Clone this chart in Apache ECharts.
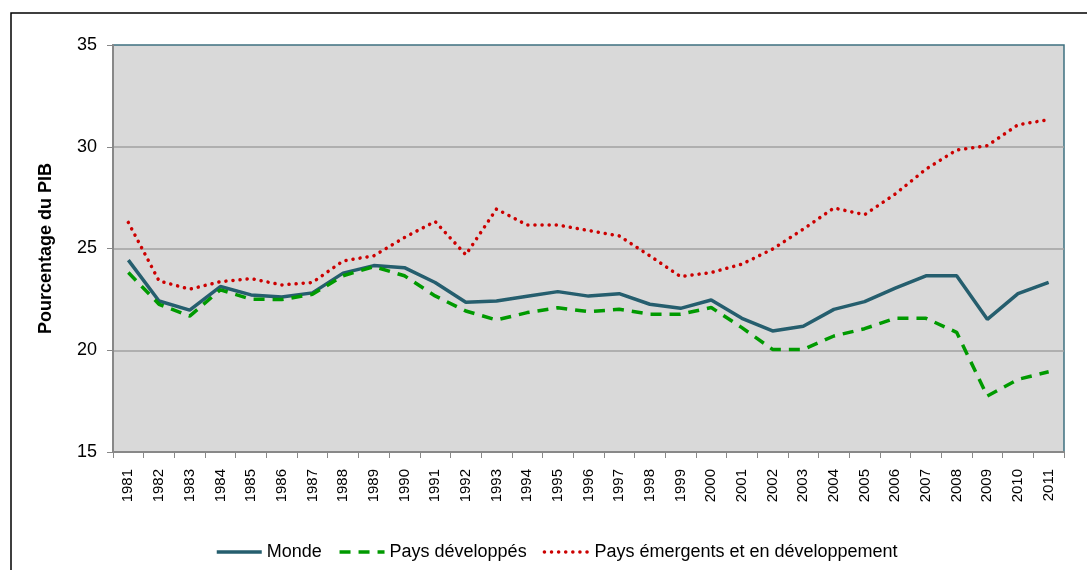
<!DOCTYPE html>
<html>
<head>
<meta charset="utf-8">
<script src="https://cdn.jsdelivr.net/npm/echarts@6/dist/echarts.min.js"></script>
<style>
  html, body { margin: 0; padding: 0; background: #fff; }
  #chart { width: 1087px; height: 570px; }
</style>
</head>
<body>
<div id="chart"></div>
<script>
const years = ['1981','1982','1983','1984','1985','1986','1987','1988','1989','1990',
  '1991','1992','1993','1994','1995','1996','1997','1998','1999','2000',
  '2001','2002','2003','2004','2005','2006','2007','2008','2009','2010','2011'];

const monde = [24.43, 22.42, 21.97, 23.13, 22.72, 22.62, 22.82, 23.79, 24.16, 24.06,
  23.33, 22.36, 22.42, 22.65, 22.88, 22.66, 22.78, 22.26, 22.06, 22.47,
  21.57, 20.95, 21.18, 22.01, 22.39, 23.05, 23.66, 23.66, 21.52, 22.78, 23.34];

const developpes = [23.82, 22.26, 21.68, 22.97, 22.51, 22.49, 22.75, 23.66, 24.11, 23.66,
  22.67, 21.93, 21.49, 21.85, 22.09, 21.90, 22.01, 21.77, 21.77, 22.10,
  21.11, 20.04, 20.04, 20.70, 21.06, 21.57, 21.57, 20.88, 17.75, 18.57, 18.94];

const emergents = [26.28, 23.41, 23.00, 23.37, 23.52, 23.21, 23.33, 24.39, 24.64, 25.54,
  26.33, 24.69, 26.94, 26.15, 26.15, 25.88, 25.62, 24.64, 23.62, 23.82,
  24.23, 24.97, 25.95, 26.99, 26.66, 27.68, 28.90, 29.84, 30.05, 31.08, 31.33];

const font = "'Liberation Sans', Arial, sans-serif";

const chart = echarts.init(document.getElementById('chart'));
chart.setOption({
  animation: false,
  textStyle: { fontFamily: font, color: '#000' },
  graphic: [{
    type: 'rect',
    z: -1,
    shape: { x: 11, y: 13, width: 1100, height: 600 },
    style: { fill: 'none', stroke: '#000', lineWidth: 1.5 }
  }],
  grid: {
    left: 113, right: 23, top: 45, bottom: 118,
    show: true,
    backgroundColor: '#d9d9d9',
    borderColor: '#3e7080',
    borderWidth: 1.5
  },
  legend: {
    left: 210,
    top: 538,
    itemWidth: 45,
    itemHeight: 14,
    itemGap: 16,
    itemStyle: { opacity: 0 },
    lineStyle: { width: 3.5 },
    textStyle: { fontSize: 18, fontFamily: font, color: '#000' },
    data: ['Monde', 'Pays développés', 'Pays émergents et en développement']
  },
  xAxis: {
    type: 'category',
    data: years,
    boundaryGap: true,
    axisLine: { lineStyle: { color: '#888', width: 2 } },
    axisTick: { show: true, length: 6, lineStyle: { color: '#888', width: 1 } },
    axisLabel: { rotate: 90, interval: 0, fontSize: 15, margin: 17, color: '#000' }
  },
  yAxis: {
    type: 'value',
    min: 15,
    max: 35,
    interval: 5,
    name: 'Pourcentage du PIB',
    nameLocation: 'middle',
    nameGap: 58,
    nameTextStyle: { fontSize: 18, fontWeight: 'bold', color: '#000' },
    axisLine: { show: true, lineStyle: { color: '#888', width: 2 } },
    axisTick: { show: true, length: 6, lineStyle: { color: '#888', width: 1 } },
    axisLabel: { fontSize: 18, margin: 16, color: '#000' },
    splitLine: { show: true, showMaxLine: false, lineStyle: { color: '#a0a0a0', width: 1.5 } }
  },
  series: [
    {
      name: 'Monde',
      type: 'line',
      data: monde,
      symbol: 'none',
      color: '#255e6e',
      lineStyle: { color: '#255e6e', width: 3.5 }
    },
    {
      name: 'Pays développés',
      type: 'line',
      data: developpes,
      symbol: 'none',
      color: '#009a00',
      lineStyle: { color: '#009a00', width: 3.5, type: [11, 8] }
    },
    {
      name: 'Pays émergents et en développement',
      type: 'line',
      data: emergents,
      symbol: 'none',
      color: '#cc0000',
      lineStyle: { color: '#cc0000', width: 3.5, type: [0.1, 7], cap: 'round' }
    }
  ]
});
</script>
</body>
</html>
